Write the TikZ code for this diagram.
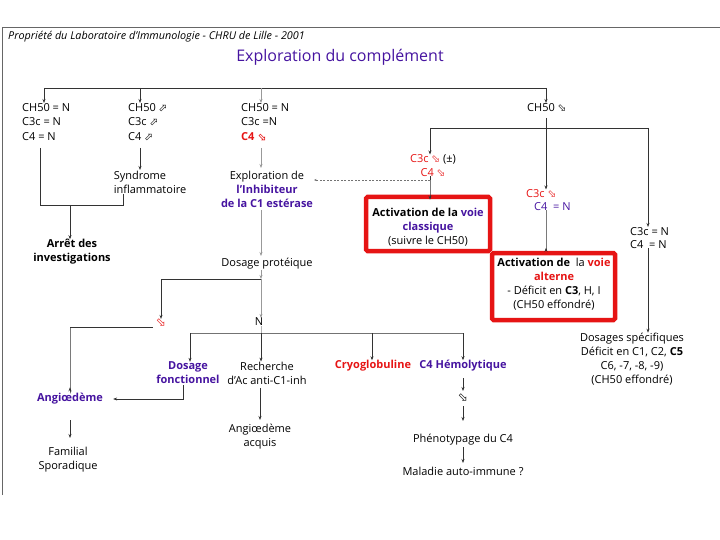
\documentclass[tikz,border=0pt]{standalone}
\usepackage{fontspec}
\setmainfont{Open Sans}
\newfontfamily\symf{DejaVu Sans}
\usetikzlibrary{arrows.meta}
\definecolor{purp}{RGB}{70,20,160}
\definecolor{myred}{RGB}{230,20,20}
\newcommand{\aup}{{\symf\fontsize{10.5}{10.5}\selectfont ⬀}}
\newcommand{\adn}{{\symf\fontsize{10.5}{10.5}\selectfont ⬂}}
\newcommand{\badn}{{\symf\fontsize{12}{12}\selectfont ⬂}}
\begin{document}
\begin{tikzpicture}[x=1pt,y=-1pt,
 txt/.style={inner sep=0pt, font=\fontsize{11}{14}\selectfont, align=center},
 btxt/.style={txt, font=\fontsize{11}{14}\selectfont\bfseries},
 ltxt/.style={txt, align=left, anchor=north west},
 arr/.style={-{Stealth[length=4pt,width=3pt]}, draw=black!80, line width=0.6pt},
 ln/.style={draw=black!80, line width=0.6pt},
 farr/.style={arr, draw=black!40},
 redbox/.style={draw=myred, line width=4.5pt, rounded corners=1.5pt, fill=white, inner sep=0pt}]
\useasboundingbox (0,0) rectangle (720,540);
% frame
\draw[black!60, line width=0.8pt] (2,495) -- (2,27) -- (720,27);
% header and title
\node[txt, anchor=west, font=\fontsize{10.8}{12}\selectfont\itshape] (hdr) at (8,37) {Propriété du Laboratoire d'Immunologie - CHRU de Lille - 2001};
\node[txt, font=\fontsize{16}{18}\selectfont, text=purp] (title) at (340,57.5) {Exploration du complément};

% top row
\node[ltxt, font=\fontsize{11}{14.5}\selectfont] (n1) at (22,103) {CH50 = N\\C3c = N\\C4 = N};
\node[ltxt, font=\fontsize{11}{14.5}\selectfont] (n2) at (128,103) {CH50 \aup\\C3c \aup\\C4 \aup};
\node[ltxt, font=\fontsize{11}{14.5}\selectfont] (n3) at (241,103) {CH50 = N\\C3c =N\\{\color{myred}\bfseries C4 \adn}};
\node[ltxt, font=\fontsize{11}{14.5}\selectfont] (n4) at (527,103) {CH50 \adn};

\coordinate (b1) at (44,88);
\coordinate (b2) at (140,88);
\coordinate (b3) at (261,88);
\coordinate (b4) at (546,88);
\draw[ln] (b1) -- (b4);
\draw[arr] (b1) -- (b1 |- n1.north);
\draw[arr] (b2) -- (b2 |- n2.north);
\draw[farr] (b3) -- (b3 |- n3.north);
\draw[arr] (b4) -- (b4 |- n4.north);

% second row left
\node[txt, align=left] (syn) at (150,182.5) {Syndrome\\inflammatoire};
\node[txt] (expl) at (267,189) {Exploration de\\{\bfseries\color{purp}l'Inhibiteur}\\{\bfseries\color{purp}de la C1 estérase}};
\node[btxt] (arret) at (72,252) {Arrêt des\\investigations};

\coordinate (j1) at (40,205);
\coordinate (j2) at (123,205);
\coordinate (j3) at (70,205);
\draw[ln] (40,148) -- (j1) -- (j2) -- (j2 |- syn.south);
\draw[arr] (j3) -- (j3 |- arret.north);
\draw[arr] (140,148) -- (140 ,170);
\draw[farr] (261,148) -- (261,168);

% right branch
\coordinate (r0) at (546,118);
\coordinate (r1) at (430,128);
\coordinate (r2) at (546,128);
\coordinate (r3) at (648,128);
\draw[ln] (r0) -- (r2);
\draw[ln] (r1) -- (r3);
\node[txt, text=myred, font=\fontsize{11}{13.5}\selectfont] (c3pm) at (433,165.5) {C3c \adn\ {\color{black}(±)}\\C4 \adn};
\node[txt, align=left, anchor=north west, font=\fontsize{11}{12.5}\selectfont] (c3n) at (526,189.5) {{\color{myred}C3c \adn}\\\hspace*{8pt}{\color{purp}C4 \ = N}};
\node[ltxt, font=\fontsize{11}{13}\selectfont] (c3nn) at (630,227) {C3c = N\\C4 \ = N};
\draw[arr] (r1) -- (r1 |- c3pm.north);
\draw[arr] (r2) -- (r2 |- c3n.north);
\draw[arr] (r3) -- (r3 |- c3nn.north);

% red boxes
\node[redbox, minimum width=124pt, minimum height=54pt] (box1) at (428,224) {};
\node[txt] (t1) at (428,227) {{\bfseries Activation de la {\color{purp}voie}}\\{\bfseries\color{purp}classique}\\(suivre le CH50)};
\node[redbox, minimum width=123pt, minimum height=67pt] (box2) at (553.5,286.5) {};
\node[txt] (t2) at (554,284) {{\bfseries Activation de} \ la {\bfseries\color{myred}voie}\\{\bfseries\color{myred}alterne}\\- Déficit en {\bfseries C3}, H, I\\(CH50 effondré)};

\coordinate (d1) at (430,180);
\draw[ln] (c3pm.south -| d1) -- (d1);
\draw[arr] (d1) -- (box1.north -| d1) -- ++(0,5);
\draw[-{Stealth[length=2.5pt,width=2pt]}, draw=black!55, dash pattern=on 2pt off 1.5pt, line width=0.5pt] (d1) -- (314,180);
\draw[arr] (c3n.south -| r2) -- (box2.north -| r2) -- ++(0,-3);

\node[txt] (dosS) at (632,359) {Dosages spécifiques\\Déficit en C1, C2, {\bfseries C5}\\C6, -7, -8, -9)\\(CH50 effondré)};
\draw[arr] (c3nn.south -| r3) -- (r3 |- dosS.north);

% middle column
\node[txt] (dosp) at (267,264) {Dosage protéique};
\draw[farr] (261,210) -- (261,256);
\coordinate (p1) at (161,279);
\coordinate (p2) at (261,279);
\draw[ln] (p1) -- (p2);
\draw[farr] (dosp.south -| p2) -- (p2);
\node[txt, text=myred] (dn1) at (161,323) {\badn};
\node[txt] (nN) at (259,322) {N};
\draw[arr] (p1) -- (p1 |- dn1.north);
\draw[farr] (p2) -- (p2 |- nN.north);

\coordinate (q1) at (190,333);
\coordinate (q2) at (261,333);
\coordinate (q3) at (372,333);
\coordinate (q4) at (463,333);
\draw[ln, draw=black!55] (q1) -- (q4);
\draw[ln, draw=black!30] (nN.south -| q2) -- (q2);

\node[btxt, text=purp] (dosf) at (188,373) {Dosage\\fonctionnel};
\node[txt] (rech) at (267,373) {Recherche\\d'Ac anti-C1-inh};
\node[btxt, text=myred] (cryo) at (373,366) {Cryoglobuline};
\node[btxt, text=purp] (c4h) at (463,366) {C4 Hémolytique};
\draw[arr] (q1) -- (q1 |- dosf.north);
\draw[arr] (q2) -- (q2 |- rech.north);
\draw[arr] (q3) -- (q3 |- cryo.north);
\draw[arr] (q4) -- (q4 |- c4h.north);

% left column bottom
\node[btxt, text=purp] (angio) at (70,399) {Angiœdème};
\node[txt] (fam) at (68,460) {Familial\\Sporadique};
\coordinate (a1) at (70,327);
\draw[ln] (dn1.west) ++(-3,4) -- (a1);
\draw[arr] (a1) -- (a1 |- angio.north) -- ++(0,-6);
\coordinate (f1) at (183,399);
\draw[arr] (f1 |- dosf.south) ++(0,1) -- (f1) -- ([xshift=10pt]angio.east);
\draw[arr] (70,420) -- (70,438);

\node[txt] (acq) at (260,437) {Angiœdème\\acquis};
\draw[arr] (260,388) -- (260,420);

% C4 hemolytique column
\node[txt] (dn2) at (463,398) {\badn};
\node[txt] (pheno) at (463,440) {Phénotypage du C4};
\node[txt] (mal) at (463,471) {Maladie auto-immune ?};
\draw[arr] (463,378) -- (463,391);
\draw[arr] (463,406) -- (463,421);
\draw[arr] (463,447) -- (463,463);
\end{tikzpicture}
\end{document}
